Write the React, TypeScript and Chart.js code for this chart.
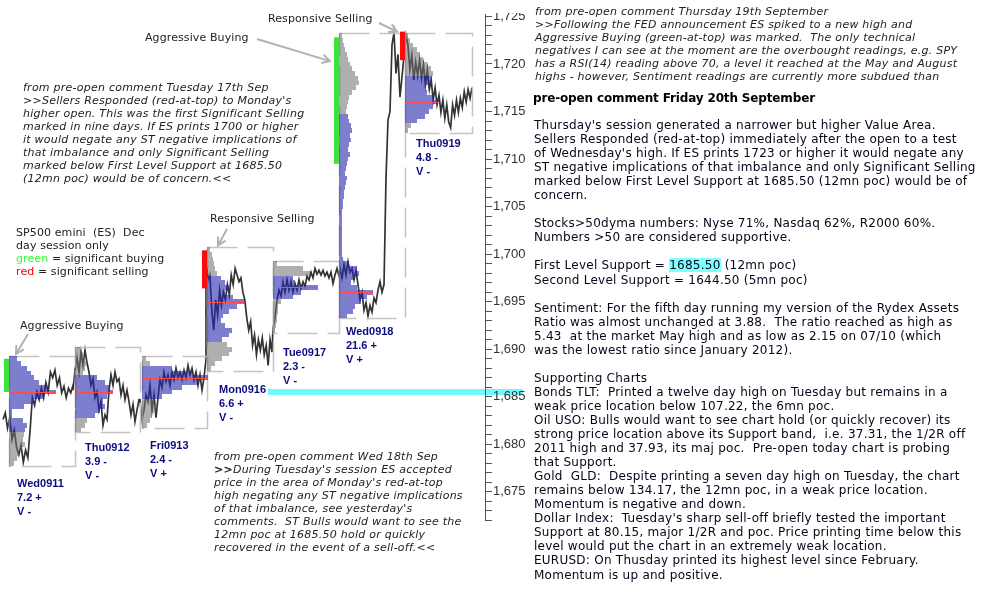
import React, { useEffect, useRef } from 'react';
import { Chart, registerables } from 'chart.js';
Chart.register(...registerables);

// ---------------- data ----------------
const sessionNames = ['Wed0911', 'Thu0912', 'Fri0913', 'Mon0916', 'Tue0917', 'Wed0918', 'Thu0919'];
const sessionRange = ['7.2 +', '3.9 -', '2.4 -', '6.6 +', '2.3 -', '21.6 +', '4.8 -'];
const sessionVolume = ['V -', 'V -', 'V +', 'V -', 'V -', 'V +', 'V -'];

// bar index (5-minute bars on a hidden time axis)
const sessionStartBar = [9, 75, 142, 207, 273, 339, 405];
const sessionEndBar = [75, 140, 207, 273, 339, 405, 472];
const priceFirstBar = [3, 73, 140, 206, 273, 340, 406];
const priceLastBar = [73, 139, 206, 272, 339, 400, 472];

const wed0911Prices = [1682.6, 1683.3, 1681.7, 1682.8, 1680.5, 1681.5, 1679.7, 1678.9, 1679.9, 1678.1, 1679.4, 1678.6, 1681.5, 1684.9, 1684.1, 1685.5, 1684.7, 1685.9, 1684.9, 1686.5, 1685.5, 1687.6, 1687.0, 1687.8, 1686.2, 1687.0, 1685.4, 1686.1, 1684.9, 1685.9, 1685.4, 1686.2];
const thu0912Prices = [1685.7, 1687.8, 1689.1, 1687.6, 1689.7, 1688.3, 1689.9, 1688.6, 1687.6, 1686.2, 1686.9, 1684.9, 1685.5, 1683.6, 1684.5, 1682.0, 1683.1, 1682.6, 1685.7, 1687.3, 1686.2, 1687.6, 1686.6, 1686.9, 1685.2, 1686.2, 1684.7, 1685.7, 1684.5, 1683.1, 1684.2, 1682.4, 1683.6, 1684.7];
const fri0913Prices = [1684.7, 1682.6, 1683.6, 1685.2, 1684.5, 1686.2, 1683.6, 1685.2, 1682.8, 1684.9, 1686.8, 1686.0, 1687.6, 1686.6, 1687.3, 1686.2, 1687.6, 1686.8, 1688.0, 1687.0, 1687.6, 1686.8, 1687.8, 1687.0, 1688.3, 1687.3, 1688.0, 1686.8, 1687.6, 1686.2, 1687.3, 1685.7, 1687.0, 1688.9];
const mon0916Prices = [1699.6, 1697.3, 1697.8, 1694.1, 1692.0, 1695.2, 1693.6, 1696.2, 1694.6, 1696.0, 1695.2, 1696.8, 1695.7, 1697.8, 1696.8, 1698.5, 1697.8, 1697.1, 1697.5, 1696.0, 1695.2, 1693.3, 1692.0, 1692.9, 1690.4, 1691.5, 1689.4, 1691.0, 1689.9, 1691.2, 1689.4, 1690.4, 1688.3, 1691.0, 1689.7];
const tue0917Prices = [1692.2, 1693.3, 1695.2, 1696.2, 1695.6, 1697.0, 1696.0, 1697.3, 1696.2, 1697.1, 1696.0, 1696.9, 1696.2, 1697.3, 1696.4, 1697.1, 1696.6, 1697.7, 1697.3, 1698.1, 1697.5, 1698.5, 1697.9, 1698.3, 1697.8, 1698.3, 1697.7, 1698.1, 1697.5, 1698.1, 1696.9, 1697.8, 1698.5, 1697.7];
const wed0918Prices = [1698.5, 1697.5, 1698.9, 1697.8, 1699.2, 1698.1, 1698.5, 1697.3, 1698.3, 1696.8, 1695.2, 1696.0, 1694.1, 1694.9, 1693.5, 1694.6, 1693.9, 1695.4, 1694.9, 1696.2, 1697.1, 1696.0, 1696.8, 1708.0, 1714.1, 1715.0, 1722.0, 1723.3, 1719.0, 1721.0, 1716.5];
const thu0919Prices = [1723.0, 1722.0, 1719.4, 1720.9, 1718.3, 1720.2, 1718.8, 1720.4, 1718.5, 1719.9, 1717.8, 1719.4, 1717.3, 1718.3, 1716.2, 1717.5, 1715.7, 1716.7, 1714.9, 1716.2, 1714.3, 1715.7, 1713.9, 1713.3, 1715.7, 1714.6, 1716.2, 1714.9, 1716.4, 1715.4, 1717.1, 1716.0, 1717.3, 1716.4, 1717.5];
const sessionPrices = [wed0911Prices, thu0912Prices, fri0913Prices, mon0916Prices, tue0917Prices, wed0918Prices, thu0919Prices];

// market profiles: TPO counts per 0.5 pt, from the top price down
const PROFILE_STEP = 0.5;
const profileTop = [1689.0, 1690.0, 1689.0, 1700.5, 1699.0, 1723.0, 1723.0];
const wed0911Profile = [8, 12, 18, 22, 25, 30, 38, 47, 35, 25, 15, 3, 3, 14, 18, 16, 15, 14, 16, 13, 10, 8, 5];
const thu0912Profile = [5, 8, 10, 12, 10, 8, 22, 30, 35, 38, 32, 28, 30, 25, 20, 12, 10, 6];
const fri0913Profile = [4, 8, 30, 50, 66, 55, 40, 30, 20, 12, 15, 12, 10, 8, 5];
const mon0916Profile = [3, 5, 6, 7, 8, 10, 14, 18, 22, 18, 26, 38, 30, 22, 16, 14, 18, 25, 22, 15, 20, 25, 22, 15, 8, 4];
const tue0917Profile = [4, 30, 37, 20, 22, 45, 28, 20, 8, 5, 5, 4, 4, 3, 2];
const wed0918Profile = [3, 4, 5, 6, 8, 9, 11, 13, 16, 19, 20, 17, 13, 10, 9, 8, 7,
  9, 10, 12, 13, 11, 12, 10, 9, 11, 9, 8, 7, 6, 8, 7, 6, 5, 5, 4, 4, 3, 3, 3, 3, 3, 3, 3, 3, 3, 3, 4,
  10, 18, 20, 15, 12, 18, 34, 28, 22, 16, 14, 8];
const thu0919Profile = [3, 5, 8, 12, 15, 18, 22, 26, 28, 27, 25, 20, 22, 28, 33, 28, 24, 20, 12, 6, 3];
const sessionProfiles = [wed0911Profile, thu0912Profile, fri0913Profile, mon0916Profile, tue0917Profile, wed0918Profile, thu0919Profile];
const valueAreaLow = [1681.5, 1683.0, 1685.0, 1691.0, 1695.5, 1693.5, 1714.0];
const valueAreaHigh = [1689.0, 1687.0, 1688.0, 1697.5, 1697.5, 1714.5, 1718.5];

// significant buying / selling markers
const signalType = ['buy', '', '', 'sell', '', 'buy', 'sell'];
const signalHigh = [1689.0, 0, 0, 1700.4, 0, 1722.8, 1723.4];
const signalLow = [1685.5, 0, 0, 1696.4, 0, 1709.5, 1720.4];

const firstLevelSupport = 1685.5;
const supportLineFromBar = 268;
const yAxisMin = 1672;
const yAxisMax = 1725.2;

// ---------------- text ----------------
const topRightItalic = [
  'from pre-open comment Thursday 19th September',
  '>>Following the FED announcement ES spiked to a new high and',
  'Aggressive Buying (green-at-top) was marked.  The only technical',
  'negatives I can see at the moment are the overbought readings, e.g. SPY',
  'has a RSI(14) reading above 70, a level it reached at the May and August',
  'highs - however, Sentiment readings are currently more subdued than',
];
const heading = 'pre-open comment Friday 20th September';
const bodyLines = [
  "Thursday's session generated a narrower but higher Value Area.",
  'Sellers Responded (red-at-top) immediately after the open to a test',
  "of Wednesday's high. If ES prints 1723 or higher it would negate any",
  'ST negative implications of that imbalance and only Significant Selling',
  'marked below First Level Support at 1685.50 (12mn poc) would be of',
  'concern.',
  '',
  'Stocks>50dyma numbers: Nyse 71%, Nasdaq 62%, R2000 60%.',
  'Numbers >50 are considered supportive.',
  '',
  '@SUPPORT1',
  'Second Level Support = 1644.50 (5mn poc)',
  '',
  'Sentiment: For the fifth day running my version of the Rydex Assets',
  'Ratio was almost unchanged at 3.88.  The ratio reached as high as',
  '5.43  at the market May high and as low as 2.15 on 07/10 (which',
  'was the lowest ratio since January 2012).',
  '',
  'Supporting Charts',
  'Bonds TLT:  Printed a twelve day high on Tuesday but remains in a',
  'weak price location below 107.22, the 6mn poc.',
  'Oil USO: Bulls would want to see chart hold (or quickly recover) its',
  'strong price location above its Support band,  i.e. 37.31, the 1/2R off',
  '2011 high and 37.93, its maj poc.  Pre-open today chart is probing',
  'that Support.',
  'Gold  GLD:  Despite printing a seven day high on Tuesday, the chart',
  'remains below 134.17, the 12mn poc, in a weak price location.',
  'Momentum is negative and down.',
  "Dollar Index:  Tuesday's sharp sell-off briefly tested the important",
  'Support at 80.15, major 1/2R and poc. Price printing time below this',
  'level would put the chart in an extremely weak location.',
  'EURUSD: On Thusday printed its highest level since February.',
  'Momentum is up and positive.',
];
const leftComment1 = [
  'from pre-open comment Tuesday 17th Sep',
  ">>Sellers Responded (red-at-top) to Monday's",
  'higher open. This was the first Significant Selling',
  'marked in nine days. If ES prints 1700 or higher',
  'it would negate any ST negative implications of',
  'that imbalance and only Significant Selling',
  'marked below First Level Support at 1685.50',
  '(12mn poc) would be of concern.<<',
];
const leftComment2 = [
  'from pre-open comment Wed 18th Sep',
  "@>>During Tuesday's session ES accepted",
  "price in the area of Monday's red-at-top",
  'high negating any ST negative implications',
  "of that imbalance, see yesterday's",
  'comments.  ST Bulls would want to see the',
  '12mn poc at 1685.50 hold or quickly',
  'recovered in the event of a sell-off.<<',
];

// ---------------- styles / layout ----------------
const VERD = "'DejaVu Sans', Verdana, sans-serif";
const ARIAL = "'Liberation Sans', Arial, sans-serif";
const BLUE = 'rgba(40,40,175,0.6)';
const GRAY = 'rgba(110,110,110,0.55)';
const dayLabelPos = [[17, 476], [85, 440], [150, 438], [219, 382], [283, 345], [346, 324], [416, 136]];

const fmtTick = (v: number) => {
  const s = String(Math.round(v));
  return s.slice(0, s.length - 3) + ',' + s.slice(s.length - 3);
};

function drawArrow(ctx: CanvasRenderingContext2D, x1: number, y1: number, x2: number, y2: number) {
  const a = Math.atan2(y2 - y1, x2 - x1);
  const L = 9;
  ctx.beginPath();
  ctx.moveTo(x1, y1);
  ctx.lineTo(x2, y2);
  ctx.moveTo(x2 - L * Math.cos(a - 0.5), y2 - L * Math.sin(a - 0.5));
  ctx.lineTo(x2, y2);
  ctx.lineTo(x2 - L * Math.cos(a + 0.5), y2 - L * Math.sin(a + 0.5));
  ctx.stroke();
}

const profilePlugin = {
  id: 'marketProfiles',
  beforeDraw(chart: any) {
    const { ctx, scales } = chart;
    const y = scales.y, x = scales.x;
    const yc = Math.round(y.getPixelForValue(firstLevelSupport));
    ctx.save();
    ctx.fillStyle = '#70fafa';
    const x0 = x.getPixelForValue(supportLineFromBar);
    ctx.fillRect(x0, yc - 3, chart.width - 15 - x0, 6);
    ctx.restore();
  },
  afterDatasetsDraw(chart: any) {
    const { ctx, scales } = chart;
    const x = scales.x, y = scales.y;
    ctx.save();
    for (let s = 0; s < sessionNames.length; s++) {
      const prof = sessionProfiles[s];
      const top = profileTop[s];
      const bottom = top - (prof.length - 1) * PROFILE_STEP;
      const x0 = Math.round(x.getPixelForValue(sessionStartBar[s]));
      const x1 = Math.round(x.getPixelForValue(sessionEndBar[s]));
      const yT = Math.round(y.getPixelForValue(top + PROFILE_STEP / 2));
      const yB = Math.round(y.getPixelForValue(bottom - PROFILE_STEP / 2));
      // dashed session box
      ctx.strokeStyle = '#c4c4c4';
      ctx.lineWidth = 1.5;
      ctx.setLineDash([30, 10]);
      ctx.strokeRect(x0 + 0.5, yT + 0.5, x1 - x0, yB - yT);
      ctx.setLineDash([]);
      // profile bars
      let pocIdx = 0;
      prof.forEach((w, i) => { if (w > prof[pocIdx]) pocIdx = i; });
      prof.forEach((w, i) => {
        const p = top - i * PROFILE_STEP;
        const inVA = p >= valueAreaLow[s] - 1e-6 && p <= valueAreaHigh[s] + 1e-6;
        ctx.fillStyle = inVA ? BLUE : GRAY;
        const a = Math.round(y.getPixelForValue(p + PROFILE_STEP / 2));
        const b = Math.round(y.getPixelForValue(p - PROFILE_STEP / 2));
        const xe = x.getPixelForValue(sessionStartBar[s] + w);
        ctx.fillRect(x0, a, xe - x0, b - a);
      });
      // point of control
      const pocP = top - pocIdx * PROFILE_STEP;
      const py = Math.round(y.getPixelForValue(pocP)) + 0.5;
      ctx.strokeStyle = '#ff4a4a';
      ctx.lineWidth = 1;
      ctx.beginPath();
      ctx.moveTo(x0, py);
      ctx.lineTo(x.getPixelForValue(sessionStartBar[s] + prof[pocIdx]), py);
      ctx.stroke();
      // significant buying / selling marker
      if (signalType[s]) {
        ctx.fillStyle = signalType[s] === 'buy' ? '#3de23d' : '#ff0a0a';
        const ma = y.getPixelForValue(signalHigh[s]);
        const mb = y.getPixelForValue(signalLow[s]);
        const mx = x.getPixelForValue(sessionStartBar[s] - 5);
        ctx.fillRect(mx, ma, x0 - mx, mb - ma);
      }
    }
    ctx.restore();
  },
  afterDraw(chart: any) {
    const { ctx, scales } = chart;
    const x = scales.x, y = scales.y;
    ctx.save();
    ctx.strokeStyle = '#b2b2b2';
    ctx.lineWidth = 2;
    const arrows = [
      [257, 39, sessionStartBar[5] - 9, 1720.3],
      [379, 23, sessionStartBar[6] - 8, 1723.4],
      [227, 229, sessionStartBar[3] + 11, 1700.9],
      [28, 334, sessionStartBar[0] + 7, 1689.5],
    ];
    arrows.forEach(([tx, ty, bar, price]) => {
      drawArrow(ctx, tx, ty, x.getPixelForValue(bar), y.getPixelForValue(price));
    });
    ctx.restore();
  },
};

function Lines({ lines, left, top, lh, style }: any) {
  return (
    <div style={{ position: 'absolute', left, top, whiteSpace: 'pre', ...style }}>
      {lines.map((l: string, i: number) => (
        <div key={i} style={{ height: lh, lineHeight: lh + 'px' }}>
          {l === '@SUPPORT1' ? (
            <>First Level Support = <span style={{ background: '#80ffff' }}>1685.50</span> (12mn poc)</>
          ) : l.startsWith('@>>') ? (
            <><span style={{ fontWeight: 'bold', fontStyle: 'normal' }}>&gt;&gt;</span>{l.slice(3)}</>
          ) : l}
        </div>
      ))}
    </div>
  );
}

export default function App() {
  const ref = useRef<HTMLCanvasElement | null>(null);
  useEffect(() => {
    if (!ref.current) return;
    const points: { x: number; y: number }[] = [];
    sessionPrices.forEach((arr, s) => {
      const a = priceFirstBar[s], b = priceLastBar[s];
      arr.forEach((v, i) => points.push({ x: a + (i * (b - a)) / (arr.length - 1), y: v }));
    });
    const chart = new Chart(ref.current, {
      type: 'line',
      data: {
        datasets: [{
          data: points,
          borderColor: '#333',
          borderWidth: 1.7,
          pointRadius: 0,
          tension: 0,
        }],
      },
      options: {
        animation: false,
        responsive: false,
        maintainAspectRatio: false,
        layout: { padding: { left: 0, right: 0, top: 14.5, bottom: 85.6 } },
        plugins: { legend: { display: false }, tooltip: { enabled: false } },
        scales: {
          x: { type: 'linear', min: 0, max: 485, display: false },
          y: {
            position: 'right',
            min: yAxisMin,
            max: yAxisMax,
            afterFit: (sc: any) => { sc.width = 53; },
            grid: { drawOnChartArea: false, drawTicks: true, tickLength: 7, color: '#555', lineWidth: 1 },
            border: { display: true, color: '#555', width: 1 },
            ticks: {
              stepSize: 1,
              autoSkip: false,
              includeBounds: false,
              padding: 1,
              color: '#333',
              font: { family: ARIAL, size: 13 },
              callback: (v: any) => (Math.round(v) % 5 === 0 ? fmtTick(v) : ''),
            },
          },
        },
      } as any,
      plugins: [profilePlugin as any],
    });
    return () => chart.destroy();
  }, []);

  const italic = { fontFamily: VERD, fontSize: 11, fontStyle: 'italic', color: '#222', letterSpacing: '0.24px' };
  const plain11 = { fontFamily: VERD, fontSize: 11, color: '#222', letterSpacing: '0.1px' };

  return (
    <div style={{ position: 'fixed', left: 0, top: 0, width: 982, height: 606, overflow: 'hidden', background: '#fff' }}>
      <canvas ref={ref} width={538} height={606} style={{ position: 'absolute', left: 0, top: 0 }} />
      <div style={{ position: 'absolute', left: 488, top: 0, width: 44, height: 13, background: '#fff' }} />

      <Lines lines={topRightItalic} left={535} top={5} lh={13} style={italic} />
      <div style={{ position: 'absolute', left: 533, top: 91, fontFamily: VERD, fontSize: 12, fontWeight: 'bold', color: '#000', whiteSpace: 'pre', lineHeight: '14px', letterSpacing: '-0.15px' }}>{heading}</div>
      <Lines lines={bodyLines} left={534} top={118} lh={14.05} style={{ fontFamily: VERD, fontSize: 12, color: '#06061a', letterSpacing: '0.25px' }} />

      <Lines lines={leftComment1} left={23} top={80.5} lh={13} style={italic} />
      <Lines lines={leftComment2} left={214} top={449.5} lh={13} style={italic} />

      <div style={{ position: 'absolute', left: 16, top: 225.5, whiteSpace: 'pre', ...plain11 }}>
        <div style={{ height: 13, lineHeight: '13px' }}>SP500 emini  (ES)  Dec</div>
        <div style={{ height: 13, lineHeight: '13px' }}>day session only</div>
        <div style={{ height: 13, lineHeight: '13px' }}><span style={{ color: '#33ff33' }}>green</span> = significant buying</div>
        <div style={{ height: 13, lineHeight: '13px' }}><span style={{ color: '#ff0000' }}>red</span> = significant selling</div>
      </div>

      <div style={{ position: 'absolute', left: 145, top: 30.5, lineHeight: '13px', whiteSpace: 'pre', ...plain11 }}>Aggressive Buying</div>
      <div style={{ position: 'absolute', left: 268, top: 11.5, lineHeight: '13px', whiteSpace: 'pre', ...plain11 }}>Responsive Selling</div>
      <div style={{ position: 'absolute', left: 210, top: 211.5, lineHeight: '13px', whiteSpace: 'pre', ...plain11 }}>Responsive Selling</div>
      <div style={{ position: 'absolute', left: 20, top: 318.5, lineHeight: '13px', whiteSpace: 'pre', ...plain11 }}>Aggressive Buying</div>

      {sessionNames.map((n, i) => (
        <div key={n} style={{ position: 'absolute', left: dayLabelPos[i][0], top: dayLabelPos[i][1], fontFamily: ARIAL, fontSize: 11, fontWeight: 'bold', color: '#0c0c80', whiteSpace: 'pre' }}>
          <div style={{ height: 14.2, lineHeight: '14.2px' }}>{n}</div>
          <div style={{ height: 14.2, lineHeight: '14.2px' }}>{sessionRange[i]}</div>
          <div style={{ height: 14.2, lineHeight: '14.2px' }}>{sessionVolume[i]}</div>
        </div>
      ))}
    </div>
  );
}
